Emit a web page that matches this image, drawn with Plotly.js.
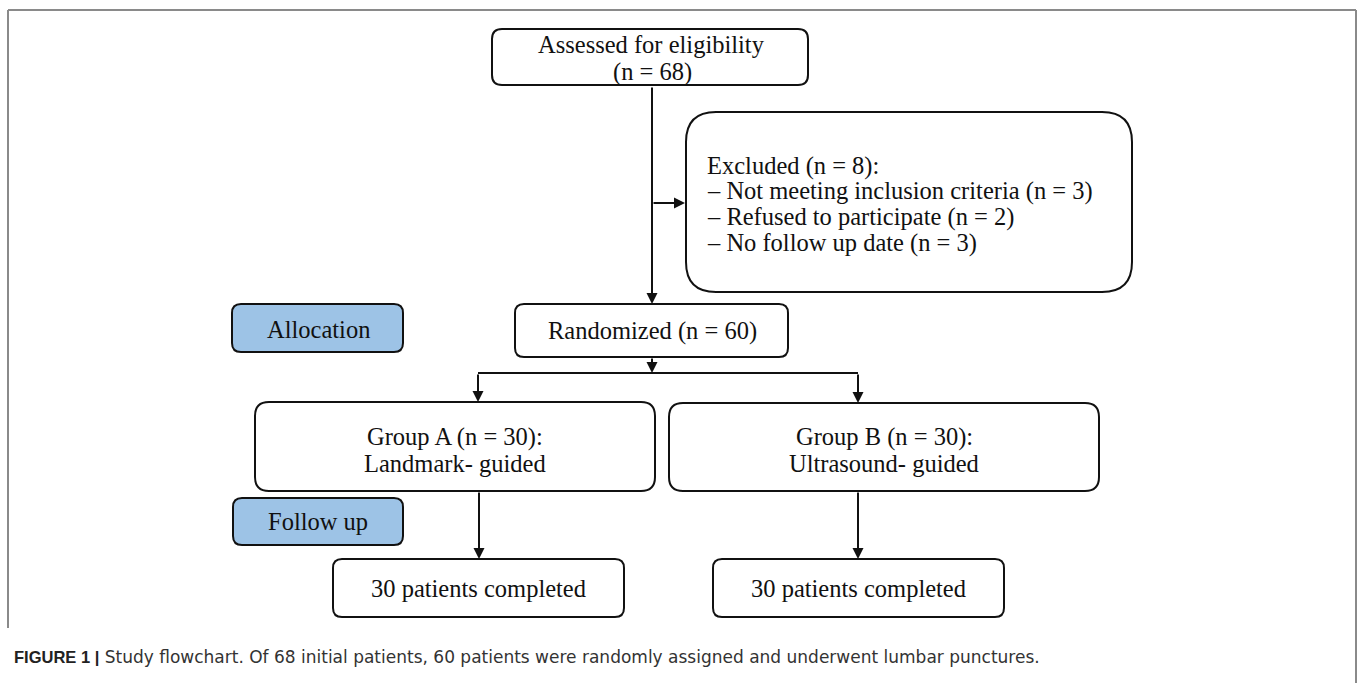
<!DOCTYPE html>
<html>
<head>
<meta charset="utf-8">
<script src="https://cdn.plot.ly/plotly-3.0.1.min.js"></script>
<style>
html,body{margin:0;padding:0;background:#fff;}
#chart{width:1358px;height:683px;}
</style>
</head>
<body>
<div id="chart"></div>
<script>
const assessedN = 68;
const excludedN = 8;
const exclusionReasons = ['Not meeting inclusion criteria', 'Refused to participate', 'No follow up date'];
const exclusionCounts = [3, 2, 3];
const randomizedN = 60;
const groupNames = ['Group A', 'Group B'];
const groupMethods = ['Landmark- guided', 'Ultrasound- guided'];
const groupCounts = [30, 30];
const completedCounts = [30, 30];
const stageLabels = ['Allocation', 'Follow up'];
const captionLabel = 'FIGURE 1 |';
const captionText = 'Study flowchart. Of 68 initial patients, 60 patients were randomly assigned and underwent lumbar punctures.';

// ---- Layout geometry (pixel-like data coordinates) ----
const box = {
  assessed:   [492, 29, 808, 85, 10],
  excluded:   [686, 112, 1132, 292, 30],
  allocation: [232, 304, 403, 352, 9],
  randomized: [515, 304, 788, 357, 9],
  groupA:     [255, 402, 655, 491, 14],
  groupB:     [669, 403, 1099, 491, 14],
  followup:   [233, 498, 403, 545, 9],
  completeA:  [333, 559, 624, 617, 9],
  completeB:  [713, 559, 1004, 617, 9]
};
const stageFill = 'rgb(157,195,230)';
const serif = 'Liberation Serif, Times New Roman, serif';
const fs = 24.5;

function rr(b) {
  const [x0, y0, x1, y1, r] = b;
  return `M ${x0 + r},${y0} L ${x1 - r},${y0} Q ${x1},${y0} ${x1},${y0 + r} L ${x1},${y1 - r} Q ${x1},${y1} ${x1 - r},${y1} L ${x0 + r},${y1} Q ${x0},${y1} ${x0},${y1 - r} L ${x0},${y0 + r} Q ${x0},${y0} ${x0 + r},${y0} Z`;
}

const shapes = [];
function addBox(b, fill) {
  shapes.push({type: 'path', path: rr(b), xref: 'x', yref: 'y',
    line: {color: '#111', width: 2}, fillcolor: fill || 'rgba(255,255,255,0)', layer: 'below'});
}
Object.keys(box).forEach(k => addBox(box[k], (k === 'allocation' || k === 'followup') ? stageFill : null));

// branch horizontal line
shapes.push({type: 'line', xref: 'x', yref: 'y', x0: 478, x1: 858, y0: 373, y1: 373, line: {color: '#111', width: 2}});

// outer figure frame (gray)
const frameColor = '#8a8a8a';
shapes.push({type: 'line', xref: 'x', yref: 'y', x0: 8, x1: 1356, y0: 10, y1: 10, line: {color: frameColor, width: 2}});
shapes.push({type: 'line', xref: 'x', yref: 'y', x0: 8, x1: 8, y0: 10, y1: 628, line: {color: frameColor, width: 2}});
shapes.push({type: 'line', xref: 'x', yref: 'y', x0: 1356, x1: 1356, y0: 10, y1: 683, line: {color: frameColor, width: 2}});

const annotations = [];
function txt(x, y, text, align) {
  annotations.push({x: x, y: y, xref: 'x', yref: 'y', text: text, showarrow: false,
    xanchor: align || 'center', yanchor: 'middle',
    font: {family: serif, size: fs, color: '#111'}});
}
function arrow(x0, y0, x1, y1) {
  annotations.push({x: x1, y: y1, ax: x0, ay: y0, xref: 'x', yref: 'y', axref: 'x', ayref: 'y',
    text: '', showarrow: true, arrowhead: 2, arrowsize: 1.1, arrowwidth: 2, arrowcolor: '#111', standoff: 0, startstandoff: 0});
}

// texts
txt(651, 44, 'Assessed for eligibility');
txt(652, 72, `(n = ${assessedN})`);
txt(705, 166, `Excluded (n = ${excludedN}):`, 'left');
exclusionReasons.forEach((r, i) => txt(705, 191 + i * 26, `– ${r} (n = ${exclusionCounts[i]})`, 'left'));
txt(318, 329, stageLabels[0]);
txt(652, 331, `Randomized (n = ${randomizedN})`);
const gBoxes = [box.groupA, box.groupB];
gBoxes.forEach((b, i) => {
  const cx = (b[0] + b[2]) / 2;
  txt(cx, 437, `${groupNames[i]} (n = ${groupCounts[i]}):`);
  txt(cx, 463, groupMethods[i]);
});
txt(318, 521, stageLabels[1]);
[box.completeA, box.completeB].forEach((b, i) => {
  txt((b[0] + b[2]) / 2, 588, `${completedCounts[i]} patients completed`);
});

// arrows
arrow(652, 86, 652, 304);
arrow(652, 203, 685, 203);
arrow(652, 357, 652, 373);
arrow(478, 373, 478, 402);
arrow(858, 373, 858, 403);
arrow(479, 491, 479, 559);
arrow(858, 491, 858, 559);

// caption
annotations.push({x: 12, y: 657, xref: 'x', yref: 'y', xanchor: 'left', yanchor: 'middle', showarrow: false,
  text: `<span style="font-family:'Liberation Sans',Arial,sans-serif;font-size:16.5px;font-weight:bold;color:#222">${captionLabel}</span> ${captionText}`,
  font: {family: 'DejaVu Sans, sans-serif', size: 17, color: '#333'}});

const layout = {
  width: 1358, height: 683,
  margin: {l: 0, r: 0, t: 0, b: 0},
  paper_bgcolor: '#fff', plot_bgcolor: '#fff',
  xaxis: {range: [0, 1358], visible: false, fixedrange: true},
  yaxis: {range: [683, 0], visible: false, fixedrange: true},
  showlegend: false,
  shapes: shapes,
  annotations: annotations
};

Plotly.newPlot('chart', [{x: [], y: [], type: 'scatter', mode: 'markers', hoverinfo: 'skip'}], layout, {staticPlot: true, displayModeBar: false});
</script>
</body>
</html>
